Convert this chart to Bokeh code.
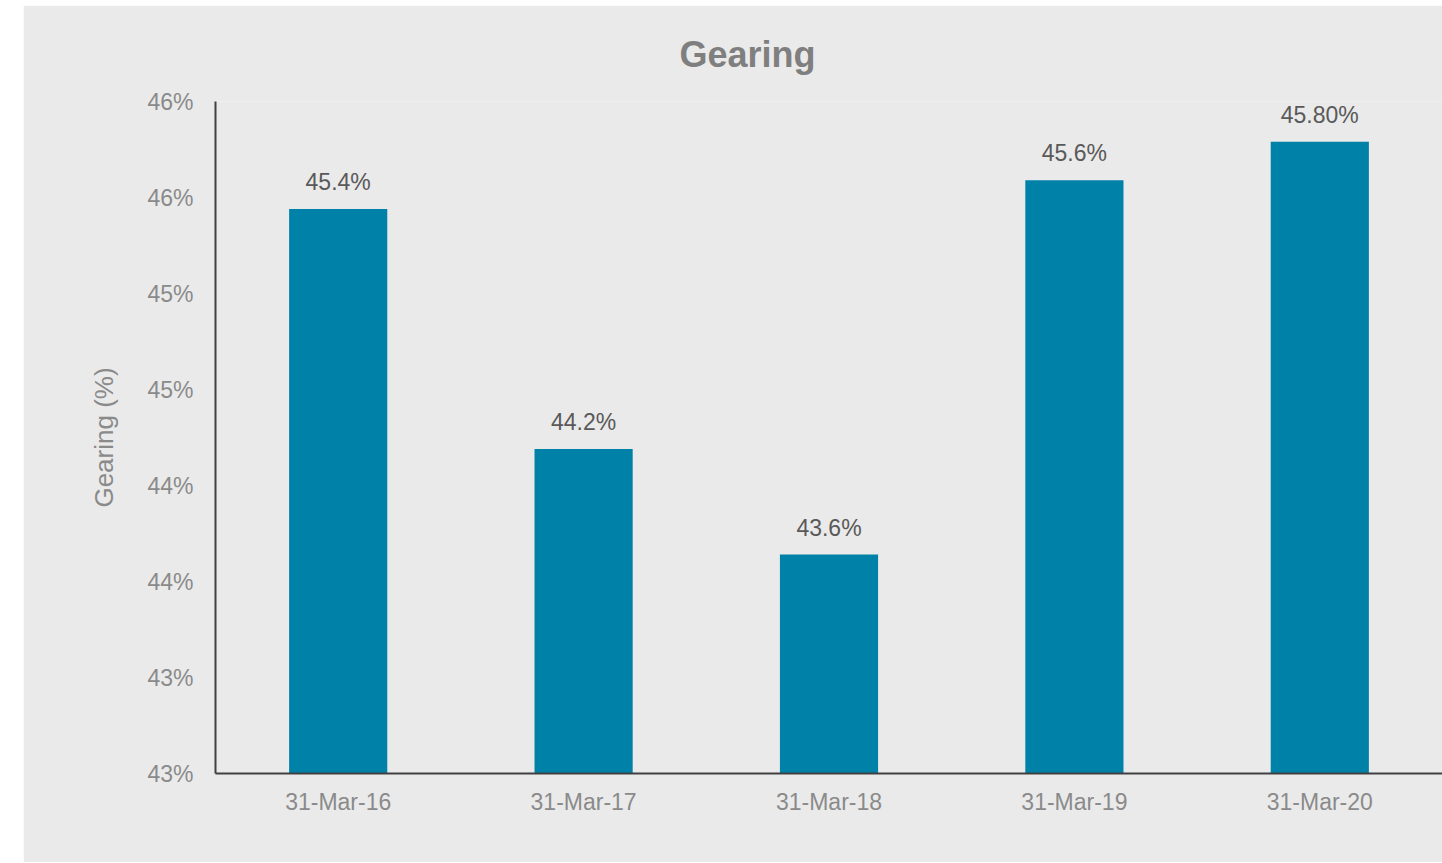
from bokeh.plotting import figure
from bokeh.models import ColumnDataSource, FixedTicker, Range1d, LabelSet, FactorRange
from bokeh.core.properties import value
from bokeh.embed import file_html
from bokeh.resources import INLINE

categories = ["31-Mar-16", "31-Mar-17", "31-Mar-18", "31-Mar-19", "31-Mar-20"]
gearing = [45.44, 44.19, 43.64, 45.59, 45.79]
value_labels = ["45.4%", "44.2%", "43.6%", "45.6%", "45.80%"]
y_ticks = [42.5, 43.0, 43.5, 44.0, 44.5, 45.0, 45.5, 46.0]
y_tick_labels = ["43%", "43%", "44%", "44%", "45%", "45%", "46%", "46%"]
chart_title = "Gearing"

FONT = "Liberation Sans"
BG = "#EAEAEA"

src = ColumnDataSource(dict(x=categories, top=gearing, label=value_labels))

p = figure(width=1419, height=857, x_range=FactorRange(factors=categories),
           y_range=Range1d(42.5, 46.0), output_backend="svg", toolbar_location=None,
           min_border_left=192, min_border_right=0, min_border_top=96, min_border_bottom=89)
p.margin = (5, 0, 1, 23)
p.background_fill_color = BG
p.border_fill_color = BG
p.outline_line_color = None
p.xgrid.grid_line_color = None
p.ygrid.grid_line_color = None

p.vbar(x="x", top="top", bottom=42.5, width=0.4, source=src,
       fill_color="#0081A7", line_color=None)

labels = LabelSet(x="x", y="top", text="label", source=src, text_align="center",
                  text_baseline="bottom", y_offset=14, text_font=value(FONT),
                  text_font_size="23px", text_color="#595959")
p.add_layout(labels)

p.title.text = chart_title
p.title.align = "left"
p.title.text_font = FONT
p.title.text_font_size = "36px"
p.title.text_font_style = "bold"
p.title.text_color = "#7F7F7F"
p.title.offset = 464
p.title.standoff = 53

ya = p.yaxis[0]
ya.ticker = FixedTicker(ticks=y_ticks)
ya.major_label_overrides = {t: l for t, l in zip(y_ticks, y_tick_labels)}
ya.axis_line_color = "#404040"
ya.axis_line_width = 2
ya.major_tick_line_color = None
ya.minor_tick_line_color = None
ya.major_label_text_font = FONT
ya.major_label_text_font_size = "23px"
ya.major_label_text_color = "#8A8A8A"
ya.major_label_standoff = 16
ya.axis_label = "Gearing (%)"
ya.axis_label_text_font = FONT
ya.axis_label_text_font_size = "26px"
ya.axis_label_text_font_style = "normal"
ya.axis_label_text_color = "#8A8A8A"
ya.axis_label_standoff = 25

xa = p.xaxis[0]
xa.axis_line_color = "#404040"
xa.axis_line_width = 2
xa.major_tick_line_color = None
xa.minor_tick_line_color = None
xa.major_label_text_font = FONT
xa.major_label_text_font_size = "23px"
xa.major_label_text_color = "#8A8A8A"
xa.major_label_standoff = 9

open("out.html", "w").write(file_html(p, INLINE))
